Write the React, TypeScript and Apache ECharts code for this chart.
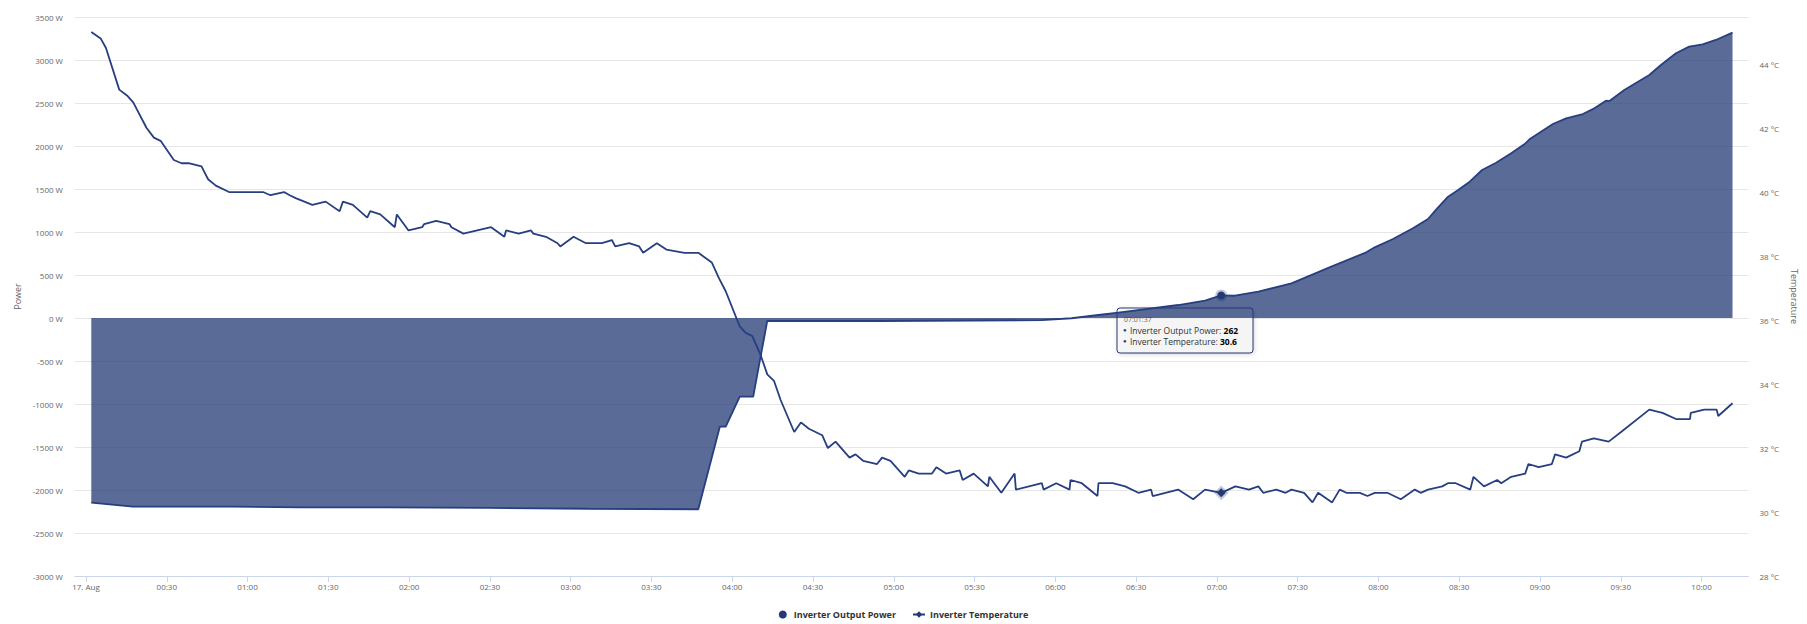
import React, { useEffect, useRef } from "react";
import * as echarts from "echarts";

// Times are minutes after 17 Aug 00:00
const powerTimes = [
  1.97, 17.4, 54.5, 79.4, 111.5, 149.8, 186.9, 227.4, 235.4, 237.6, 242.8, 247.8, 253.0,
  294.4, 354.9, 366.0, 376.0, 383.4, 405.7, 415.6, 421.617, 426.7, 435.4, 447.7, 462.5,
  475.5, 478.6, 485.4, 492.8, 498.4, 501.5, 505.6, 509.6, 513.9, 518.5, 523.7, 529.3,
  534.3, 536.1, 544.8, 549.7, 555.9, 560.2, 564.5, 565.8, 571.3, 580.6, 584.9, 590.5,
  595.4, 600.4, 605.3, 611.5,
];
const powerValues = [
  -2148, -2194, -2194, -2201, -2201, -2209, -2218, -2224, -1264, -1264, -915, -915, -35,
  -35, -25, -3, 35, 62, 151, 201, 262, 259, 306, 403, 597,
  764, 822, 919, 1043, 1151, 1264, 1403, 1488, 1585, 1721, 1806, 1915,
  2023, 2078, 2256, 2322, 2372, 2438, 2527, 2523, 2651, 2826, 2942, 3078,
  3155, 3182, 3233, 3318,
];

const tempTimes = [
  1.97, 5.45, 7.42, 12.35, 15.46, 17.54, 22.51, 25.22, 27.7, 32.63, 35.49, 38.08, 42.9,
  45.35, 48.21, 53.14, 65.75, 68.49, 73.54, 75.65, 78.1, 84.07, 89.0, 94.19, 95.42, 99.12,
  104.46, 105.57, 109.28, 114.7, 115.44, 119.78, 124.86, 125.6, 130.05, 134.98, 135.72,
  140.17, 150.45, 155.38, 156.01, 160.68, 165.28, 166.13, 170.84, 175.14, 176.14, 181.08,
  185.67, 191.6, 195.31, 196.54, 201.73, 205.44, 206.92, 212.0, 215.56, 222.24, 227.43,
  232.4, 235.11, 237.59, 242.78, 245.01, 247.46, 250.57, 253.02, 255.5, 257.98, 263.03,
  265.51, 268.48, 273.41, 275.53, 278.38, 283.57, 285.8, 288.62, 293.81, 295.65, 298.78,
  304.08, 305.56, 309.27, 314.2, 315.83, 319.4, 324.48, 325.59, 329.67, 334.97, 335.48,
  339.94, 344.87, 345.35, 355.0, 355.63, 360.34, 365.27, 365.64, 369.83, 375.65, 376.02,
  381.32, 385.92, 390.86, 395.57, 396.16, 405.6, 411.2, 415.6, 421.617, 426.9, 431.9,
  435.4, 437.2, 442.1, 445.5, 447.7, 452.4, 455.5, 457.6, 462.8, 465.6, 468.1, 473.1,
  475.9, 478.6, 483.3, 488.3, 493.5, 495.7, 498.4, 503.7, 505.8, 508.7, 514.1, 515.3,
  519.2, 524.1, 525.6, 529.3, 534.5, 535.7, 539.5, 544.4, 545.6, 549.7, 554.6, 555.6,
  560.0, 565.5, 570.1, 580.6, 585.5, 590.7, 595.7, 596.0, 601.0, 605.6, 606.2, 611.5,
];
const tempValues = [
  45.0, 44.8, 44.5, 43.2, 43.0, 42.8, 42.0, 41.7, 41.6, 41.0, 40.9, 40.9, 40.8,
  40.4, 40.2, 40.0, 40.0, 39.9, 40.0, 39.9, 39.8, 39.6, 39.7, 39.4, 39.7, 39.6,
  39.2, 39.4, 39.3, 38.9, 39.3, 38.8, 38.9, 39.0, 39.1, 39.0, 38.9,
  38.7, 38.9, 38.6, 38.8, 38.7, 38.8, 38.7, 38.6, 38.4, 38.3, 38.6,
  38.4, 38.4, 38.5, 38.3, 38.4, 38.3, 38.1, 38.4, 38.2, 38.1, 38.1,
  37.8, 37.3, 36.9, 35.8, 35.6, 35.5, 34.9, 34.3, 34.1, 33.5, 32.5,
  32.8, 32.6, 32.4, 32.0, 32.2, 31.7, 31.8, 31.6, 31.5, 31.7, 31.6,
  31.1, 31.3, 31.2, 31.2, 31.4, 31.2, 31.3, 31.0, 31.2, 30.8, 31.1,
  30.6, 31.2, 30.7, 30.9, 30.7, 30.9, 30.7, 31.0, 30.9, 30.5, 30.9,
  30.9, 30.8, 30.6, 30.7, 30.5, 30.7, 30.4, 30.7, 30.6, 30.8, 30.7,
  30.8, 30.6, 30.7, 30.6, 30.7, 30.6, 30.3, 30.6, 30.3, 30.7, 30.6, 30.6,
  30.5, 30.6, 30.6, 30.4, 30.7, 30.6, 30.7, 30.8, 30.9, 30.9, 30.7, 31.1,
  30.8, 31.0, 30.9, 31.1, 31.2, 31.5, 31.4, 31.5, 31.8, 31.7, 31.9, 32.2,
  32.3, 32.2, 32.5, 33.2, 33.1, 32.9, 32.9, 33.1, 33.2, 33.2, 33.0, 33.4,
];

const xTickMinutes = [
  0, 30, 60, 90, 120, 150, 180, 210, 240, 270, 300, 330, 360, 390, 420, 450, 480, 510,
  540, 570, 600,
];
const dateLabel = "17. Aug";
const seriesNames = ["Inverter Output Power", "Inverter Temperature"];
const hoverTime = 421.617;

const pad = (n: number) => (n < 10 ? "0" + n : "" + n);
const fmtHM = (m: number) => {
  if (m === 0) return dateLabel;
  const h = Math.floor(m / 60);
  return pad(h) + ":" + pad(Math.round(m - h * 60));
};
const fmtHMS = (m: number) => {
  const s = Math.round(m * 60);
  const h = Math.floor(s / 3600);
  const mi = Math.floor((s - h * 3600) / 60);
  return pad(h) + ":" + pad(mi) + ":" + pad(s - h * 3600 - mi * 60);
};

export default function App() {
  const ref = useRef<HTMLDivElement>(null);
  useEffect(() => {
    document.body.style.margin = "0";
    const chart = echarts.init(ref.current as HTMLDivElement, null, { renderer: "svg" });
    const navy = "#243a75";
    const font = "'Open Sans', sans-serif";
    const powerData = powerTimes.map((t, i) => [t, powerValues[i]]);
    const tempData = tempTimes.map((t, i) => [t, tempValues[i]]);
    const hoverP = powerTimes.indexOf(hoverTime);
    const hoverT = tempTimes.indexOf(hoverTime);

    chart.setOption({
      animation: false,
      grid: { left: 75, right: 56, top: 17, bottom: 48, containLabel: false },
      legend: {
        top: 605,
        left: "center",
        itemWidth: 12,
        itemHeight: 8,
        itemGap: 16,
        textStyle: { fontFamily: font, fontSize: 9, fontWeight: "bold", color: "#333333" },
        data: [{ name: seriesNames[0], icon: "circle" }, { name: seriesNames[1] }],
      },
      xAxis: {
        type: "value",
        min: -4.08,
        max: 617.4,
        axisLine: { onZero: false, lineStyle: { color: "#ccd6eb", width: 1 } },
        axisTick: {
          show: true,
          length: 6,
          customValues: xTickMinutes,
          lineStyle: { color: "#ccd6eb" },
        },
        axisLabel: {
          customValues: xTickMinutes,
          formatter: (v: number) => fmtHM(v),
          color: "#666666",
          fontSize: 8,
          fontFamily: font,
          margin: 6,
        },
        splitLine: { show: false },
      },
      yAxis: [
        {
          type: "value",
          min: -3000,
          max: 3500,
          interval: 500,
          name: "Power",
          nameLocation: "middle",
          nameGap: 51,
          nameRotate: 90,
          nameTextStyle: { fontFamily: font, fontSize: 9, color: "#666666" },
          axisLine: { show: false },
          axisTick: { show: false },
          axisLabel: {
            formatter: (v: number) => String(v) + " W",
            color: "#666666",
            fontSize: 8,
            fontFamily: font,
            margin: 12,
          },
          splitLine: { lineStyle: { color: "#e6e6e6", width: 1 } },
        },
        {
          type: "value",
          position: "right",
          min: 28,
          max: 45.47,
          interval: 2,
          name: "Temperature",
          nameLocation: "middle",
          nameGap: 38,
          nameRotate: -90,
          nameTextStyle: { fontFamily: font, fontSize: 9, color: "#666666" },
          axisLine: { show: false },
          axisTick: { show: false },
          axisLabel: {
            formatter: (v: number) => String(v) + " °C",
            showMaxLabel: false,
            color: "#666666",
            fontSize: 8,
            fontFamily: font,
            margin: 11,
          },
          splitLine: { show: false },
        },
      ],
      series: [
        {
          name: seriesNames[0],
          type: "line",
          yAxisIndex: 0,
          data: powerData,
          showSymbol: false,
          symbol: "circle",
          symbolSize: 8,
          lineStyle: { color: navy, width: 1.8 },
          itemStyle: { color: navy },
          areaStyle: { color: navy, opacity: 0.75 },
          emphasis: {
            scale: false,
            lineStyle: { width: 1.8 },
            areaStyle: { color: navy, opacity: 0.75 },
            itemStyle: { color: navy, borderColor: "rgba(36,58,117,0.28)", borderWidth: 4 },
          },
          z: 2,
        },
        {
          name: seriesNames[1],
          type: "line",
          yAxisIndex: 1,
          data: tempData,
          showSymbol: false,
          symbol: "diamond",
          symbolSize: 9,
          lineStyle: { color: navy, width: 1.8 },
          itemStyle: { color: navy },
          emphasis: {
            scale: false,
            lineStyle: { width: 1.8 },
            itemStyle: { color: navy, borderColor: "rgba(36,58,117,0.28)", borderWidth: 4 },
          },
          z: 3,
        },
      ],
    });

    const pt = chart.convertToPixel({ xAxisIndex: 0, yAxisIndex: 0 }, [
      powerTimes[hoverP],
      powerValues[hoverP],
    ]) as number[];
    const bx = Math.round(pt[0] - 104);
    const by = Math.round(pt[1] + 13);
    const tipW = 136;
    const tipH = 45;
    const rich = {
      d: { fontSize: 6, fill: navy, fontFamily: font },
      n: { fontSize: 8.5, fill: "#333333", fontFamily: font },
      b: { fontSize: 8.5, fill: "#000000", fontWeight: "bold", fontFamily: font },
    };
    chart.setOption({
      graphic: [
        {
          type: "group",
          x: bx,
          y: by,
          z: 100,
          children: [
            {
              type: "rect",
              shape: { x: 0, y: 0, width: tipW, height: tipH, r: 3 },
              style: {
                fill: "rgba(247,247,247,0.86)",
                stroke: navy,
                lineWidth: 1,
                shadowBlur: 4,
                shadowColor: "rgba(0,0,0,0.18)",
                shadowOffsetX: 1,
                shadowOffsetY: 1,
              },
            },
            {
              type: "text",
              x: 7,
              y: 11,
              style: {
                text: fmtHMS(hoverTime),
                fontSize: 7,
                fontFamily: font,
                fill: "#666666",
                verticalAlign: "middle",
              },
            },
            {
              type: "text",
              x: 6,
              y: 22,
              style: {
                text: "{d|●} {n|" + seriesNames[0] + ": }{b|" + powerValues[hoverP] + "}",
                rich,
                verticalAlign: "middle",
              },
            },
            {
              type: "text",
              x: 6,
              y: 33,
              style: {
                text: "{d|●} {n|" + seriesNames[1] + ": }{b|" + tempValues[hoverT].toFixed(1) + "}",
                rich,
                verticalAlign: "middle",
              },
            },
          ],
        },
      ],
    });

    chart.dispatchAction({ type: "highlight", seriesIndex: 0, dataIndex: hoverP });
    chart.dispatchAction({ type: "highlight", seriesIndex: 1, dataIndex: hoverT });

    return () => {
      chart.dispose();
    };
  }, []);
  return <div ref={ref} style={{ width: 1807, height: 624 }} />;
}
